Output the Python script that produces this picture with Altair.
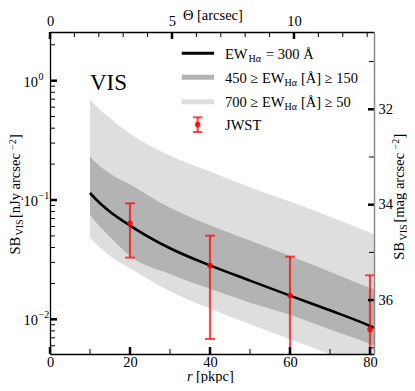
import altair as alt
import pandas as pd

# ---------------- data ----------------
r_model = [10, 12.5, 15, 20, 30, 40, 50, 60, 70, 80, 81]
sb_fid = [0.1145, 0.0940, 0.0798, 0.0611, 0.0394, 0.0283, 0.0211, 0.0158, 0.0119, 0.0088, 0.0085]
sb_dark_hi = [0.231, 0.192, 0.166, 0.135, 0.086, 0.0614, 0.0457, 0.0339, 0.0251, 0.0184, 0.0179]
sb_dark_lo = [0.0749, 0.0596, 0.049, 0.034, 0.024, 0.018, 0.0138, 0.0109, 0.0082, 0.0062, 0.0060]
sb_light_hi = [0.696, 0.571, 0.485, 0.360, 0.236, 0.173, 0.128, 0.097, 0.0725, 0.0535, 0.0518]
sb_light_lo = [0.0485, 0.040, 0.034, 0.0268, 0.0172, 0.0123, 0.0091, 0.0068, 0.0051, 0.0038, 0.0037]

r_jwst = [20, 40, 60, 80]
sb_jwst = [0.0638, 0.0283, 0.0158, 0.0082]
sb_jwst_hi = [0.0938, 0.0502, 0.0335, 0.0234]
sb_jwst_lo = [0.0329, 0.00684, 0.0042, 0.0032]

r_major = [0, 20, 40, 60, 80]
r_minor = [10, 30, 50, 70]
theta_major = [0, 5, 10]
theta_minor = [1, 2, 3, 4, 6, 7, 8, 9, 11, 12, 13]
sb_major = [0.01, 0.1, 1.0]
sb_major_base = ["10", "10", "10"]
sb_major_exp = ["\u22122", "\u22121", "0"]
sb_minor = [0.006, 0.007, 0.008, 0.009,
            0.02, 0.03, 0.04, 0.05, 0.06, 0.07, 0.08, 0.09,
            0.2, 0.3, 0.4, 0.5, 0.6, 0.7, 0.8, 0.9, 2.0]
mag_major = [32, 34, 36]
mag_minor = [31, 33, 35, 37]

r_domain = [0, 81]
theta_domain = [0, 13.28]
sb_domain = [0.00512, 2.56]
mag_domain = [30.38, 37.13]

NB = "\u00a0"
legend_labels = {
    "fid": ["EW", "H\u03b1", "=" + NB + "300" + NB + "\u00c5"],
    "dark": ["450" + NB + "\u2265" + NB + "EW", "H\u03b1", "[\u00c5]" + NB + "\u2265" + NB + "150"],
    "light": ["700" + NB + "\u2265" + NB + "EW", "H\u03b1", "[\u00c5]" + NB + "\u2265" + NB + "50"],
    "jwst": ["JWST"],
}
panel_label = "VIS"

# ---------------- styling ----------------
W, H = 324, 322
FONT = "Liberation Serif"
FS = 14.5
RED = "#ff0000"
DARK = "#b3b3b3"
LIGHT = "#dedede"

x_scale = alt.Scale(domain=r_domain, nice=False, zero=False)
y_scale = alt.Scale(type="log", domain=sb_domain, nice=False)
th_scale = alt.Scale(domain=theta_domain, nice=False, zero=False)
mag_scale = alt.Scale(domain=mag_domain, nice=False, zero=False, reverse=True)

x_axis = alt.Axis(orient="bottom", values=r_major, ticks=False, grid=False, title=None,
                  domainColor="black", domainWidth=1.3, labelFont=FONT, labelFontSize=FS,
                  labelColor="black", labelPadding=1, labelFlush=False, zindex=1)
y_axis = alt.Axis(orient="left", labels=False, ticks=False, grid=False, title=None,
                  domainColor="black", domainWidth=1.3, zindex=1)
top_axis = alt.Axis(orient="top", values=theta_major, ticks=False, grid=False, title=None,
                    domainColor="black", domainWidth=1.3, labelFont=FONT, labelFontSize=FS,
                    labelColor="black", labelPadding=4, labelFlush=False, zindex=1)
right_axis = alt.Axis(orient="right", values=mag_major, ticks=False, grid=False, title=None,
                      domainColor="#8a8a8a", domainWidth=1.5, labelFont=FONT, labelFontSize=FS,
                      labelColor="black", labelPadding=4, labelFlush=False, zindex=1)


def X(f):
    return alt.X(f, type="quantitative", scale=x_scale, axis=x_axis)


def Y(f):
    return alt.Y(f, type="quantitative", scale=y_scale, axis=y_axis)


model = pd.DataFrame({"r": r_model, "fid": sb_fid, "dhi": sb_dark_hi, "dlo": sb_dark_lo,
                      "lhi": sb_light_hi, "llo": sb_light_lo})
jwst = pd.DataFrame({"r": r_jwst, "sb": sb_jwst, "hi": sb_jwst_hi, "lo": sb_jwst_lo})

light = alt.Chart(model).mark_area(color=LIGHT, interpolate="monotone", clip=True).encode(
    x=X("r"), y=Y("llo"), y2=alt.Y2("lhi"))
dark = alt.Chart(model).mark_area(color=DARK, interpolate="monotone", clip=True).encode(
    x=X("r"), y=Y("dlo"), y2=alt.Y2("dhi"))
line = alt.Chart(model).mark_line(color="black", strokeWidth=2.6, interpolate="monotone",
                                  clip=True).encode(x=X("r"), y=Y("fid"))

err = alt.Chart(jwst).mark_rule(color=RED, opacity=0.7, strokeWidth=2.2, clip=True).encode(
    x=X("r"), y=Y("lo"), y2=alt.Y2("hi"))
cap_hi = alt.Chart(jwst).mark_tick(color=RED, opacity=0.7, orient="horizontal", size=10,
                                   thickness=2, clip=True).encode(x=X("r"), y=Y("hi"))
cap_lo = alt.Chart(jwst).mark_tick(color=RED, opacity=0.7, orient="horizontal", size=10,
                                   thickness=2, clip=True).encode(x=X("r"), y=Y("lo"))
pts = alt.Chart(jwst).mark_circle(color=RED, opacity=0.9, size=30, clip=True).encode(
    x=X("r"), y=Y("sb"))

# inward ticks on bottom and left
bot_maj = alt.Chart(pd.DataFrame({"r": r_major})).mark_rule(color="black", strokeWidth=2.5).encode(
    x=X("r"), y=alt.value(H), y2=alt.value(H - 7))
bot_min = alt.Chart(pd.DataFrame({"r": r_minor})).mark_rule(color="black", strokeWidth=1).encode(
    x=X("r"), y=alt.value(H), y2=alt.value(H - 5))
left_maj = alt.Chart(pd.DataFrame({"v": sb_major})).mark_rule(color="black", strokeWidth=2.5).encode(
    y=Y("v"), x=alt.value(0), x2=alt.value(7))
left_min = alt.Chart(pd.DataFrame({"v": sb_minor})).mark_rule(color="black", strokeWidth=1).encode(
    y=Y("v"), x=alt.value(0), x2=alt.value(5))

ylab = pd.DataFrame({"v": sb_major, "b": sb_major_base, "e": sb_major_exp})
left_lab = alt.Chart(ylab).mark_text(align="right", baseline="middle", font=FONT, fontSize=FS,
                                     color="black", dy=2).encode(
    y=Y("v"), x=alt.value(-12), text="b:N")
left_exp = alt.Chart(ylab).mark_text(align="left", baseline="middle", font=FONT, fontSize=10,
                                     color="black", dy=-4).encode(
    y=Y("v"), x=alt.value(-11.5), text="e:N")


def txt(s, x, y, size=FS, angle=0, style="normal", align="left"):
    return alt.Chart(pd.DataFrame({"t": [s]})).mark_text(
        align=align, baseline="alphabetic", font=FONT, fontSize=size, angle=angle,
        fontStyle=style, color="black").encode(x=alt.value(x), y=alt.value(y), text="t:N")


def hrule(x1, x2, y, color, width, opacity=1.0):
    return alt.Chart(pd.DataFrame({"t": [0]})).mark_rule(
        color=color, strokeWidth=width, opacity=opacity).encode(
        x=alt.value(x1), x2=alt.value(x2), y=alt.value(y))


texts = [
    # axis titles
    txt("r", 137, 348.5, style="italic"),
    txt("[pkpc]", 146, 348.5),
    txt("\u0398", 133, -12.5),
    txt("[arcsec]", 147, -12.5),
    # left title (rotated)
    txt("SB", -30, 222.5, angle=270),
    txt("VIS", -27, 203.5, size=10, angle=270),
    txt("[nJy arcsec", -30, 186, angle=270),
    txt("\u22122", -34.5, 118, size=10, angle=270),
    txt("]", -30, 107, angle=270),
    # right title (rotated)
    txt("SB", 354, 227.7, angle=270),
    txt("VIS", 356.5, 208.5, size=10, angle=270),
    txt("[mag arcsec", 354, 190.5, angle=270),
    txt("\u22122", 348.5, 117.5, size=10, angle=270),
    txt("]", 354, 106.5, angle=270),
    # panel label
    txt(panel_label, 40, 58, size=23),
    # legend text
    txt(legend_labels["fid"][0], 175, 26.5),
    txt(legend_labels["fid"][1], 198.5, 29.5, size=10),
    txt(legend_labels["fid"][2], 216, 26.5),
    txt(legend_labels["dark"][0], 175, 50.5),
    txt(legend_labels["dark"][1], 234.5, 53.5, size=10),
    txt(legend_labels["dark"][2], 251, 50.5),
    txt(legend_labels["light"][0], 175, 74.5),
    txt(legend_labels["light"][1], 234.5, 77.5, size=10),
    txt(legend_labels["light"][2], 251, 74.5),
    txt(legend_labels["jwst"][0], 175, 97.5),
]

legend_marks = [
    hrule(131.7, 164, 21.3, "black", 3),
    hrule(131.7, 164, 45.3, DARK, 5),
    hrule(131.7, 164, 69.7, LIGHT, 5),
    alt.Chart(pd.DataFrame({"t": [0]})).mark_rule(color=RED, opacity=0.7, strokeWidth=2.2).encode(
        x=alt.value(147.7), y=alt.value(85.3), y2=alt.value(100)),
    hrule(143, 152.4, 85.3, RED, 2, 0.7),
    hrule(143, 152.4, 100, RED, 2, 0.7),
    alt.Chart(pd.DataFrame({"t": [0]})).mark_circle(color=RED, opacity=0.9, size=30).encode(
        x=alt.value(147.7), y=alt.value(92.6)),
]

main = alt.layer(light, dark, line, err, cap_hi, cap_lo, pts,
                 bot_maj, bot_min, left_maj, left_min, left_lab, left_exp,
                 *texts, *legend_marks)

# secondary axes: top (arcsec) and right (mag)
top_maj = alt.Chart(pd.DataFrame({"th": theta_major})).mark_rule(color="black", strokeWidth=2.5).encode(
    x=alt.X("th:Q", scale=th_scale, axis=top_axis), y=alt.value(0), y2=alt.value(7))
top_min = alt.Chart(pd.DataFrame({"th": theta_minor})).mark_rule(color="black", strokeWidth=1).encode(
    x=alt.X("th:Q", scale=th_scale, axis=top_axis), y=alt.value(0), y2=alt.value(5))
right_maj = alt.Chart(pd.DataFrame({"m": mag_major})).mark_rule(color="black", strokeWidth=2.5).encode(
    y=alt.Y("m:Q", scale=mag_scale, axis=right_axis), x=alt.value(W), x2=alt.value(W - 6))
right_min = alt.Chart(pd.DataFrame({"m": mag_minor})).mark_rule(color="black", strokeWidth=1).encode(
    y=alt.Y("m:Q", scale=mag_scale, axis=right_axis), x=alt.value(W), x2=alt.value(W - 5))

secondary = alt.layer(top_maj, top_min, right_maj, right_min)

chart = alt.layer(main, secondary).resolve_scale(x="independent", y="independent").properties(
    width=W, height=H, autosize="none",
    padding={"left": 42, "top": 24, "right": 33, "bottom": 29},
).configure_view(stroke=None)

chart.save("out.html", embed_options={"renderer": "svg", "actions": False})
